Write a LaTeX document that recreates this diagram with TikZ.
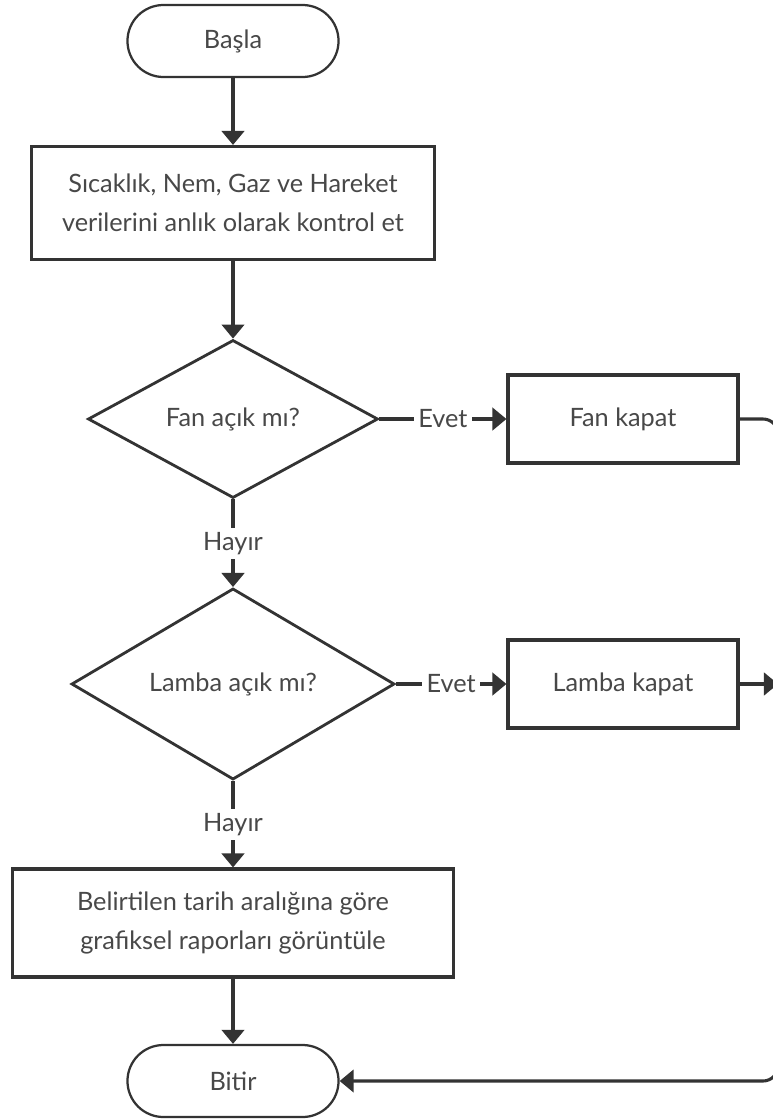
\documentclass[tikz,border=0pt]{standalone}
\usepackage{fontspec}
\setmainfont{Lato}
\usetikzlibrary{shapes.geometric,arrows.meta}
\definecolor{linegray}{HTML}{333333}
\definecolor{textgray}{HTML}{484848}

\begin{document}
\begin{tikzpicture}[x=0.025cm,y=-0.025cm,
  every node/.style={font=\fontsize{18}{28}\selectfont,text=textgray,align=center},
  terminal/.style={draw=linegray,line width=1.6pt,rounded corners=0.9cm,minimum width=5.275cm,minimum height=1.8cm},
  process/.style={draw=linegray,line width=2.2pt},
  decision/.style={draw=linegray,line width=2pt,diamond,inner sep=0pt},
  lab/.style={fill=white,inner sep=3pt},
  flow/.style={draw=linegray,line width=2.2pt,-{Triangle[width=16pt,length=10pt]}}]
\clip (0,0) rectangle (773,1120);
\node [terminal] (basla) at (233,41) {Başla};
\node [process,minimum width=10.05cm,minimum height=2.825cm] (kontrol) at (233,203)
  {Sıcaklık, Nem, Gaz ve Hareket\\verilerini anlık olarak kontrol et};
\node [decision,minimum width=7.25cm,minimum height=3.95cm] (fanmi) at (233,419) {Fan açık mı?};
\node [process,minimum width=5.75cm,minimum height=2.2cm] (fankapat) at (623,419) {Fan kapat};
\node [decision,minimum width=8.075cm,minimum height=3.95cm] (lambami) at (233,684) {Lamba açık mı?};
\node [process,minimum width=5.75cm,minimum height=2.2cm] (lambakapat) at (623,684) {Lamba kapat};
\node [process,minimum width=11cm,minimum height=2.7cm] (rapor) at (233,923)
  {Belirtilen tarih aralığına göre\\grafiksel raporları görüntüle};
\node [terminal] (bitir) at (233,1081) {Bitir};
\coordinate (sag) at (778,0);
% main line
\draw [flow] (basla) -- (kontrol);
\draw [flow] (kontrol) -- (fanmi);
\draw [flow] (fanmi) -- node [lab] {Evet} (fankapat);
\draw [flow] (fanmi) -- node [lab] {Hayır} (lambami);
\draw [flow] (lambami) -- node [lab] {Evet} (lambakapat);
\draw [flow] (lambami) -- node [lab] {Hayır} (rapor);
\draw [flow] (rapor) -- (bitir);
% right side back to Bitir
\draw [flow,rounded corners=0.375cm] (fankapat.east) -- (fankapat.east -| sag)
  -- (bitir.east -| sag) -- (bitir.east);
\draw [flow] (lambakapat.east) -- (lambakapat.east -| sag);
\end{tikzpicture}
\end{document}
